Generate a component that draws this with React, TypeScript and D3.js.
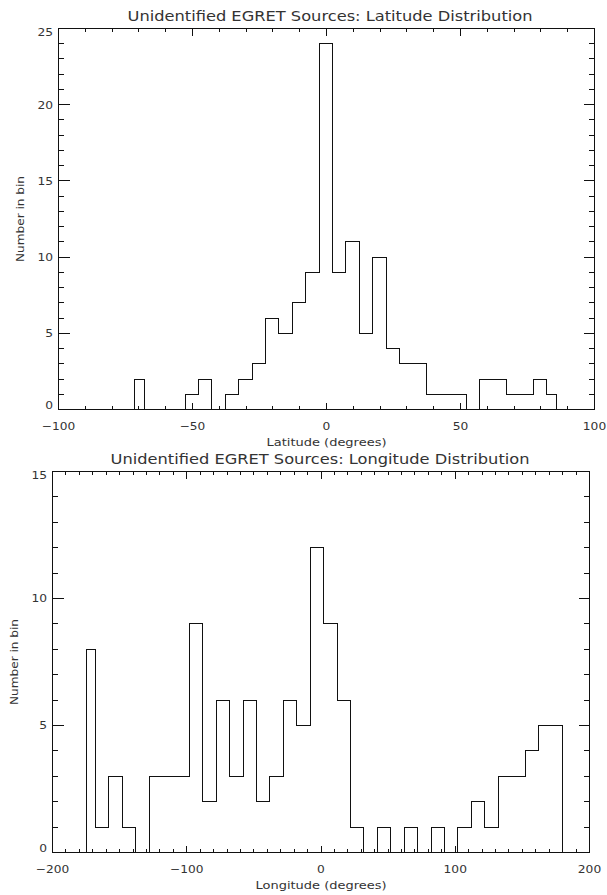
import React from "react";
import * as d3 from "d3";

// ---- Data ----
// Latitude histogram: bin edges (degrees) and counts
const latEdges = [
  -71.5, -67.75, -62.75, -57.75, -52.75, -47.75, -42.75, -37.75, -32.75, -27.75,
  -22.75, -17.75, -12.75, -7.75, -2.75, 2.25, 7.25, 12.25, 17.25, 22.25, 27.25,
  32.25, 37.25, 42.25, 47.25, 52.25, 57.25, 62.25, 67.25, 72.25, 77.25, 82.25, 86,
];
const latCounts = [
  2, 0, 0, 0, 1, 2, 0, 1, 2, 3, 6, 5, 7, 9, 24, 9, 11, 5, 10, 4, 3, 3, 1, 1, 1, 0,
  2, 2, 1, 1, 2, 1,
];

// Longitude histogram: bin edges (degrees) and counts
const lonEdges = [
  -175, -168, -158, -148, -138, -128, -118, -108, -98, -88, -78, -68, -58, -48, -38,
  -28, -18, -8, 2, 12, 22, 32, 42, 52, 62, 72, 82, 92, 102, 112, 122, 132, 142, 152,
  162, 180,
];
const lonCounts = [
  8, 1, 3, 1, 0, 3, 3, 3, 9, 2, 6, 3, 6, 2, 3, 6, 5, 12, 9, 6, 1, 0, 1, 0, 1, 0, 1,
  0, 1, 2, 1, 3, 3, 4, 5,
];

const latMajorTicks = [-100, -50, 0, 50, 100];
const lonMajorTicks = [-200, -100, 0, 100, 200];
const latCountTicks = [0, 5, 10, 15, 20, 25];
const lonCountTicks = [0, 5, 10, 15];

const titles = [
  "Unidentified EGRET Sources: Latitude Distribution",
  "Unidentified EGRET Sources: Longitude Distribution",
];
const xLabels = ["Latitude (degrees)", "Longitude (degrees)"];
const yLabel = "Number in bin";

const FONT = "'DejaVu Sans', 'Liberation Sans', sans-serif";
const INK = "#111";
const TEXT_INK = "#333";

function fmt(v: number) {
  return v < 0 ? "\u2212" + Math.abs(v) : String(v);
}
function labelWidth(s: string) {
  let w = 0;
  for (const c of s) w += c === "\u2212" ? 10 : 7.8;
  return w;
}

type PanelProps = {
  edges: number[];
  counts: number[];
  xDomain: [number, number];
  xMajor: number[];
  xMinorStep: number;
  yMajor: number[];
  yMinorStep: number;
  left: number;
  right: number;
  top: number;
  bottom: number;
  title: string;
  titleX: number;
  titleWidth: number;
  xLabel: string;
  xLabelWidth: number;
};

function Panel(p: PanelProps) {
  const x = d3.scaleLinear().domain(p.xDomain).range([p.left, p.right]);
  const yMax = p.yMajor[p.yMajor.length - 1];
  const y = d3.scaleLinear().domain([0, yMax]).range([p.bottom, p.top]);

  const pts: [number, number][] = [[p.edges[0], 0]];
  p.counts.forEach((c, i) => {
    pts.push([p.edges[i], c]);
    pts.push([p.edges[i + 1], c]);
  });
  pts.push([p.edges[p.edges.length - 1], 0]);
  const line = d3
    .line<[number, number]>()
    .x((d) => Math.round(x(d[0]) - 0.5) + 0.5)
    .y((d) => Math.round(y(d[1]) - 0.5) + 0.5);

  const xMinor = d3
    .range(p.xDomain[0], p.xDomain[1] + 1e-6, p.xMinorStep)
    .filter((v) => !p.xMajor.includes(v));
  const yMinor = d3
    .range(0, yMax + 1e-6, p.yMinorStep)
    .filter((v) => !p.yMajor.includes(v));

  const xMajLen = 7,
    xMinLen = 3.8,
    yMajLen = 11,
    yMinLen = 5.5;
  const px = (v: number) => Math.round(x(v) - 0.5) + 0.5;
  const py = (v: number) => Math.round(y(v) - 0.5) + 0.5;
  const cy = (p.top + p.bottom) / 2;

  return (
    <g>
      <text
        x={p.titleX}
        y={p.top - 8}
        textAnchor="middle"
        fontFamily={FONT}
        fontSize={14.5}
        fill={TEXT_INK}
        textLength={p.titleWidth}
        lengthAdjust="spacingAndGlyphs"
      >
        {p.title}
      </text>
      <path d={line(pts) || ""} fill="none" stroke={INK} strokeWidth={1} shapeRendering="crispEdges" />
      <rect
        x={p.left}
        y={p.top}
        width={p.right - p.left}
        height={p.bottom - p.top}
        fill="none"
        stroke={INK}
        strokeWidth={1}
        shapeRendering="crispEdges"
      />
      <g stroke={INK} strokeWidth={1} shapeRendering="crispEdges">
        {p.xMajor.map((v) => (
          <g key={"xm" + v}>
            <line x1={px(v)} x2={px(v)} y1={p.bottom} y2={p.bottom - xMajLen} />
            <line x1={px(v)} x2={px(v)} y1={p.top} y2={p.top + xMajLen} />
          </g>
        ))}
        {xMinor.map((v) => (
          <g key={"xn" + v}>
            <line x1={px(v)} x2={px(v)} y1={p.bottom} y2={p.bottom - xMinLen} />
            <line x1={px(v)} x2={px(v)} y1={p.top} y2={p.top + xMinLen} />
          </g>
        ))}
        {p.yMajor.map((v) => (
          <g key={"ym" + v}>
            <line x1={p.left} x2={p.left + yMajLen} y1={py(v)} y2={py(v)} />
            <line x1={p.right} x2={p.right - yMajLen} y1={py(v)} y2={py(v)} />
          </g>
        ))}
        {yMinor.map((v) => (
          <g key={"yn" + v}>
            <line x1={p.left} x2={p.left + yMinLen} y1={py(v)} y2={py(v)} />
            <line x1={p.right} x2={p.right - yMinLen} y1={py(v)} y2={py(v)} />
          </g>
        ))}
      </g>
      <g fontFamily={FONT} fontSize={10.5} fill={TEXT_INK}>
        {p.xMajor.map((v) => {
          const s = fmt(v);
          return (
            <text
              key={"xl" + v}
              x={x(v)}
              y={p.bottom + 20}
              textAnchor="middle"
              textLength={labelWidth(s)}
              lengthAdjust="spacingAndGlyphs"
            >
              {s}
            </text>
          );
        })}
        {p.yMajor.map((v, i) => {
          const s = fmt(v);
          const off = i === 0 ? -0.5 : i === p.yMajor.length - 1 ? 7.8 : 3.8;
          return (
            <text
              key={"yl" + v}
              x={p.left - 5.5}
              y={y(v) + off}
              textAnchor="end"
              textLength={labelWidth(s)}
              lengthAdjust="spacingAndGlyphs"
            >
              {s}
            </text>
          );
        })}
        <text
          x={(p.left + p.right) / 2}
          y={p.bottom + 36}
          textAnchor="middle"
          fontSize={10}
          textLength={p.xLabelWidth}
          lengthAdjust="spacingAndGlyphs"
        >
          {p.xLabel}
        </text>
        <text
          transform={`translate(${p.left - 35},${cy}) rotate(-90)`}
          textAnchor="middle"
          fontSize={10}
          textLength={86}
          lengthAdjust="spacingAndGlyphs"
        >
          {yLabel}
        </text>
      </g>
    </g>
  );
}

export default function App() {
  return (
    <svg
      width={607}
      height={895}
      style={{ position: "absolute", left: 0, top: 0, display: "block", background: "#fff" }}
    >
      <rect width={607} height={895} fill="#fff" />
      <Panel
        edges={latEdges}
        counts={latCounts}
        xDomain={[-100, 100]}
        xMajor={latMajorTicks}
        xMinorStep={10}
        yMajor={latCountTicks}
        yMinorStep={1}
        left={58.5}
        right={594.5}
        top={28.5}
        bottom={409.5}
        title={titles[0]}
        titleX={330}
        titleWidth={405}
        xLabel={xLabels[0]}
        xLabelWidth={120}
      />
      <Panel
        edges={lonEdges}
        counts={lonCounts}
        xDomain={[-200, 200]}
        xMajor={lonMajorTicks}
        xMinorStep={10}
        yMajor={lonCountTicks}
        yMinorStep={1}
        left={52.5}
        right={589.5}
        top={471.5}
        bottom={852.5}
        title={titles[1]}
        titleX={320}
        titleWidth={419}
        xLabel={xLabels[1]}
        xLabelWidth={131}
      />
    </svg>
  );
}
